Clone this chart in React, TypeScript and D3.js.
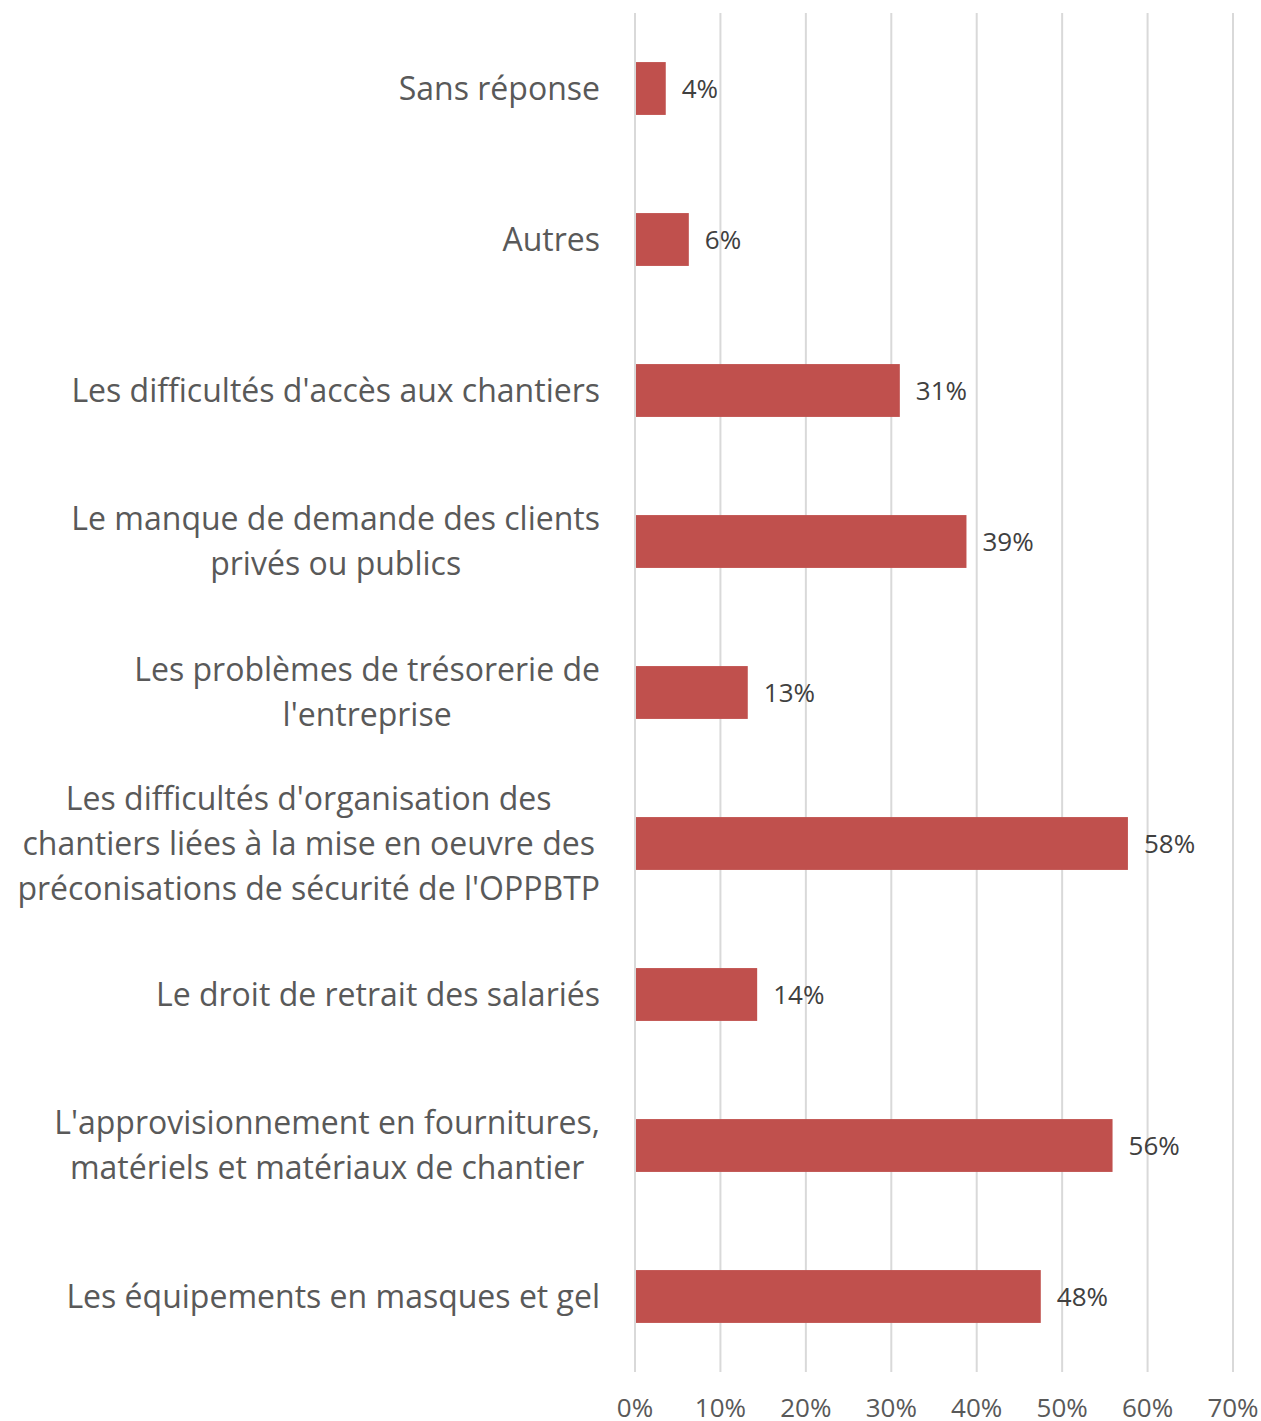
import React, { useEffect, useRef } from "react";
import * as d3 from "d3";

// categories top to bottom, each split into its wrapped lines
const categories: string[][] = [
  ["Sans réponse"],
  ["Autres"],
  ["Les difficultés d'accès aux chantiers"],
  ["Le manque de demande des clients", "privés ou publics"],
  ["Les problèmes de trésorerie de", "l'entreprise"],
  [
    "Les difficultés d'organisation des",
    "chantiers liées à la mise en oeuvre des",
    "préconisations de sécurité de l'OPPBTP",
  ],
  ["Le droit de retrait des salariés"],
  ["L'approvisionnement en fournitures,", "matériels et matériaux de chantier"],
  ["Les équipements en masques et gel"],
];

const values: number[] = [0.036, 0.063, 0.31, 0.388, 0.132, 0.577, 0.143, 0.559, 0.475];
const valueLabels: string[] = ["4%", "6%", "31%", "39%", "13%", "58%", "14%", "56%", "48%"];
const ticks: number[] = [0, 0.1, 0.2, 0.3, 0.4, 0.5, 0.6, 0.7];

const W = 1261;
const H = 1421;
const FONT = "'Open Sans', sans-serif";

export default function App() {
  const ref = useRef<SVGSVGElement>(null);

  useEffect(() => {
    const svg = d3.select(ref.current);
    svg.selectAll("*").remove();

    const x = d3.scaleLinear().domain([0, 0.7]).range([635, 1233]);
    const keys = categories.map((c) => c.join(" "));
    const y = d3
      .scaleBand<string>()
      .domain(keys)
      .range([13, 1372])
      .paddingInner(0.65)
      .paddingOuter(0.325);

    // gridlines
    svg
      .append("g")
      .selectAll("line")
      .data(ticks)
      .join("line")
      .attr("x1", (d) => x(d))
      .attr("x2", (d) => x(d))
      .attr("y1", 13)
      .attr("y2", 1372)
      .attr("stroke", "#D9D9D9")
      .attr("stroke-width", 2);

    // tick labels
    svg
      .append("g")
      .selectAll("text")
      .data(ticks)
      .join("text")
      .attr("x", (d) => x(d))
      .attr("y", 1417)
      .attr("text-anchor", "middle")
      .attr("font-family", FONT)
      .attr("font-size", 26)
      .attr("fill", "#595959")
      .text((d) => d3.format(".0%")(d));

    // bars
    svg
      .append("g")
      .selectAll("rect")
      .data(values)
      .join("rect")
      .attr("x", x(0) + 1)
      .attr("y", (_, i) => y(keys[i])!)
      .attr("width", (d) => x(d) - x(0) - 1)
      .attr("height", y.bandwidth())
      .attr("fill", "#C0504D");

    // value labels
    svg
      .append("g")
      .selectAll("text")
      .data(values)
      .join("text")
      .attr("x", (d) => x(d) + 16)
      .attr("y", (_, i) => y(keys[i])! + y.bandwidth() / 2)
      .attr("dy", "0.35em")
      .attr("font-family", FONT)
      .attr("font-size", 26)
      .attr("fill", "#404040")
      .text((_, i) => valueLabels[i]);

    // category labels: lines centred on each other, block right-aligned
    const lineH = 45;
    const labels = svg.append("g");
    categories.forEach((lines, i) => {
      const cy = y(keys[i])! + y.bandwidth() / 2;
      const t = labels
        .append("text")
        .attr("font-family", FONT)
        .attr("font-size", 32)
        .attr("fill", "#595959")
        .attr("text-anchor", "middle");
      const spans = lines.map((l, j) =>
        t
          .append("tspan")
          .attr("y", cy + (j - (lines.length - 1) / 2) * lineH)
          .attr("dy", "0.35em")
          .text(l)
      );
      const maxW = d3.max(spans, (s) => (s.node() as SVGTSpanElement).getComputedTextLength()) || 0;
      spans.forEach((s) => s.attr("x", 600 - maxW / 2));
    });
  }, []);

  return (
    <svg
      ref={ref}
      width={W}
      height={H}
      style={{ position: "absolute", left: 0, top: 0, display: "block", background: "#fff" }}
    />
  );
}
